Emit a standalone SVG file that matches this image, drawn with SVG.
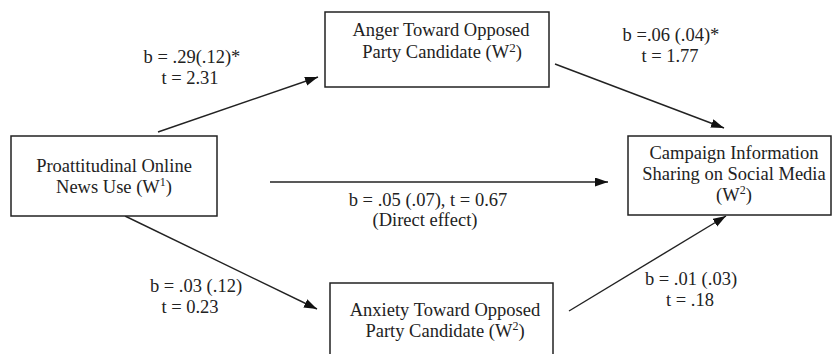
<svg xmlns="http://www.w3.org/2000/svg" width="833" height="354" viewBox="0 0 833 354">
<style>
  .box { fill: #fff; stroke: #222; stroke-width: 1.5; }
  .t { font-family: "Liberation Serif", "Times New Roman", serif; font-size: 18.5px; fill: #222; text-anchor: middle; }
  .sup { font-size: 12px; }
  .edge { stroke: #222; stroke-width: 1.4; fill: none; marker-end: url(#arr); }
</style>
<defs>
  <marker id="arr" markerUnits="userSpaceOnUse" markerWidth="14" markerHeight="10" refX="13" refY="4.5" orient="auto">
    <path d="M0,0 L13,4.5 L0,9 z" fill="#111"/>
  </marker>
</defs>
<rect width="833" height="354" fill="#fff"/>

<g id="connectors">
  <line class="edge" x1="158" y1="132" x2="318" y2="77"/>
  <line class="edge" x1="555" y1="64" x2="724" y2="128"/>
  <line class="edge" x1="270" y1="182" x2="608" y2="182"/>
  <line class="edge" x1="125" y1="216" x2="317" y2="309"/>
  <line class="edge" x1="569" y1="311" x2="726" y2="216"/>
</g>

<g id="labels">
  <text class="t" x="192" y="63">b = .29(.12)*</text>
  <text class="t" x="190" y="84">t = 2.31</text>
  <text class="t" x="671" y="41">b =.06 (.04)*</text>
  <text class="t" x="670" y="62">t = 1.77</text>
  <text class="t" x="428" y="206">b = .05 (.07), t = 0.67</text>
  <text class="t" x="425" y="226">(Direct effect)</text>
  <text class="t" x="196" y="292">b = .03 (.12)</text>
  <text class="t" x="190" y="313">t = 0.23</text>
  <text class="t" x="691" y="285">b = .01 (.03)</text>
  <text class="t" x="690" y="306">t = .18</text>
</g>

<g id="node-anger">
  <rect class="box" x="325" y="12" width="224" height="75"/>
  <text class="t" x="441" y="36">Anger Toward Opposed</text>
  <text class="t" x="442" y="58">Party Candidate  (W<tspan dy="-6" font-size="13">2</tspan><tspan dy="6">)</tspan></text>
</g>

<g id="node-proattitudinal">
  <rect class="box" x="11" y="136" width="206" height="80"/>
  <text class="t" x="114" y="172">Proattitudinal Online</text>
  <text class="t" x="114" y="193">News Use (W<tspan class="sup" dy="-7">1</tspan><tspan dy="7">)</tspan></text>
</g>

<g id="node-campaign">
  <rect class="box" x="628" y="136" width="203" height="79"/>
  <text class="t" x="734" y="159">Campaign Information</text>
  <text class="t" x="734" y="180">Sharing on Social Media</text>
  <text class="t" x="734" y="201">(W<tspan class="sup" dy="-7">2</tspan><tspan dy="7">)</tspan></text>
</g>

<g id="node-anxiety">
  <rect class="box" x="330" y="283" width="223" height="90"/>
  <text class="t" x="445" y="316">Anxiety Toward Opposed</text>
  <text class="t" x="445" y="337">Party Candidate (W<tspan class="sup" dy="-7">2</tspan><tspan dy="7">)</tspan></text>
</g>
</svg>
